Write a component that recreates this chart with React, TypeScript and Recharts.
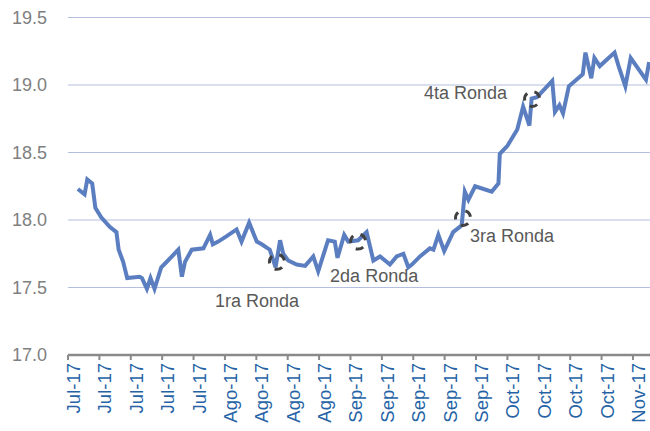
import { LineChart, Line, XAxis, YAxis, CartesianGrid, ReferenceDot } from 'recharts';

// calendar days counted from 1 Jul 2017
const days = [
  2.2, 3.7, 4.3, 5.4, 6.1, 7.4, 9.3, 10.8, 11.3, 12.3, 13.2, 16.0, 16.5, 17.6, 18.4, 19.3,
  20.8, 22.3, 24.6, 25.4, 26.1, 27.6, 30.2, 31.7, 32.3, 33.5, 35.4, 37.6, 38.7, 40.4, 42.1,
  43.2, 45.0, 46.3, 47.3, 48.0, 49.1, 51.0, 52.9, 54.7, 55.8, 58.0, 59.5, 60.1, 61.6, 62.5,
  64.7, 66.6, 68.1, 69.6, 71.8, 73.3, 74.8, 75.9, 76.7, 78.5, 80.7, 81.5, 82.6, 83.9, 85.9,
  87.8, 88.5, 89.3, 90.8, 94.5, 96.0, 96.3, 98.0, 100.2, 101.5, 102.9, 103.4, 104.6, 108.0,
  108.6, 109.6, 110.4, 111.7, 114.8, 115.4, 116.7, 117.4, 118.6, 121.9, 122.8, 124.3, 125.5,
  128.9, 129.6,
];

const rates = [
  18.23, 18.19, 18.3, 18.27, 18.09, 18.02, 17.95, 17.91, 17.78, 17.69, 17.57, 17.58, 17.57,
  17.49, 17.57, 17.49, 17.65, 17.7, 17.78, 17.58, 17.69, 17.78, 17.79, 17.89, 17.82, 17.84,
  17.88, 17.93, 17.84, 17.98, 17.84, 17.82, 17.78, 17.65, 17.85, 17.75, 17.7, 17.67, 17.66,
  17.73, 17.62, 17.85, 17.84, 17.72, 17.89, 17.84, 17.85, 17.91, 17.7, 17.73, 17.67, 17.73,
  17.75, 17.65, 17.67, 17.73, 17.79, 17.78, 17.89, 17.77, 17.91, 17.96, 18.21, 18.15, 18.25,
  18.21, 18.27, 18.49, 18.55, 18.67, 18.84, 18.7, 18.9, 18.91, 19.03, 18.8, 18.85, 18.79,
  18.99, 19.08, 19.24, 19.05, 19.2, 19.14, 19.24, 19.14, 18.99, 19.2, 19.04, 19.17,
];

const tickDays = [0, 7, 14, 21, 28, 35, 42, 49, 56, 63, 70, 77, 84, 91, 98, 105, 112, 119, 126];
const tickLabels = [
  'Jul-17', 'Jul-17', 'Jul-17', 'Jul-17', 'Jul-17',
  'Ago-17', 'Ago-17', 'Ago-17', 'Ago-17',
  'Sep-17', 'Sep-17', 'Sep-17', 'Sep-17', 'Sep-17',
  'Oct-17', 'Oct-17', 'Oct-17', 'Oct-17',
  'Nov-17',
];

const yTicks = [17, 17.5, 18, 18.5, 19, 19.5];

const roundNames = ['1ra Ronda', '2da Ronda', '3ra Ronda', '4ta Ronda'];
const roundDays = [46.6, 64.7, 88.1, 103.5];
const roundRates = [17.69, 17.84, 18.015, 18.896];

// label offsets from the circle centre, in px
const labelOffsets = [
  [-62, 45],
  [-28, 40],
  [7, 24],
  [-108, 0],
];

const data = days.map((d, i) => ({ day: d, rate: rates[i] }));

const FONT = '"Liberation Sans", Arial, sans-serif';

const XTick = (props: any) => {
  const { x, y, payload } = props;
  const idx = tickDays.indexOf(payload.value);
  return (
    <text
      transform={`translate(${x + 12},${y}) rotate(-90)`}
      textAnchor="end"
      fontSize={18.5}
      fontFamily={FONT}
      fill="#2563a6"
    >
      {tickLabels[idx]}
    </text>
  );
};

const roundShape = (i: number) => (props: any) => {
  const { cx, cy } = props;
  const [dx, dy] = labelOffsets[i];
  return (
    <g>
      <circle
        cx={cx}
        cy={cy}
        r={7.5}
        fill="none"
        stroke="#404040"
        strokeWidth={3}
        strokeDasharray="8 7.7"
        strokeDashoffset={9.6}
      />
      <text x={cx + dx} y={cy + dy} fontSize={18} fontFamily={FONT} fill="#595959">
        {roundNames[i]}
      </text>
    </g>
  );
};

export default function App() {
  return (
    <div style={{ position: 'absolute', left: 0, top: 0, background: '#fff' }}>
      <LineChart
        width={650}
        height={431}
        data={data}
        margin={{ top: 17.5, right: 0, left: 0, bottom: 0 }}
      >
        <CartesianGrid horizontal vertical={false} stroke="#b4bfe0" strokeWidth={1.2} />
        <XAxis
          dataKey="day"
          type="number"
          domain={[0, 129.8]}
          ticks={tickDays}
          interval={0}
          height={76}
          axisLine={{ stroke: '#8a8a8a', strokeWidth: 2.5 }}
          tickLine={{ stroke: '#8a8a8a', strokeWidth: 2 }}
          tickSize={5}
          tickMargin={3}
          tick={<XTick />}
          allowDataOverflow
        />
        <YAxis
          domain={[17, 19.5]}
          ticks={yTicks}
          width={68}
          axisLine={false}
          tickLine={false}
          tickSize={0}
          tickMargin={21}
          tickFormatter={(v: number) => v.toFixed(1)}
          tick={{ fontSize: 18, fill: '#808080', fontFamily: FONT }}
        />
        <Line
          type="linear"
          dataKey="rate"
          stroke="#5b7ec0"
          strokeWidth={4}
          dot={false}
          isAnimationActive={false}
        />
        {roundNames.map((n, i) => (
          <ReferenceDot
            key={n}
            x={roundDays[i]}
            y={roundRates[i]}
            r={7.5}
            ifOverflow="visible"
            shape={roundShape(i)}
          />
        ))}
      </LineChart>
    </div>
  );
}
